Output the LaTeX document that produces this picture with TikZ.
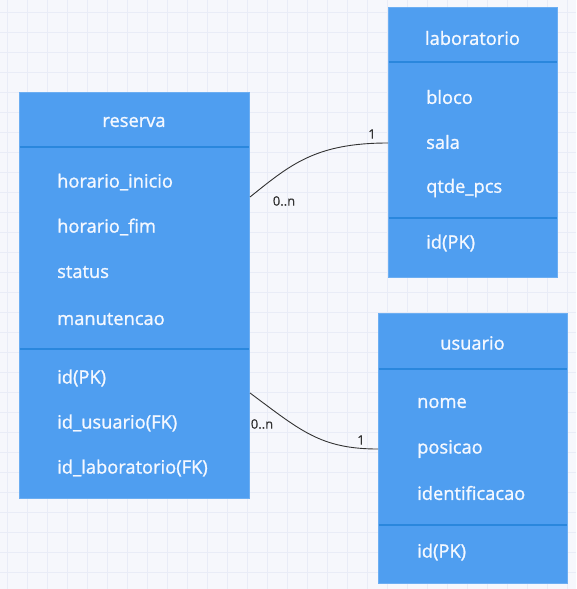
\documentclass[tikz,border=0pt]{standalone}
\usepackage{fontspec}
\setmainfont{Open Sans}
\newfontfamily\boxfont[FakeBold=1.2]{Open Sans}
\newfontfamily\cardfont[FakeBold=0.5]{Open Sans}
\usetikzlibrary{calc}
\definecolor{bg}{HTML}{F6F7FC}
\definecolor{gridc}{HTML}{E9ECF7}
\definecolor{boxfill}{HTML}{4F9EF0}
\definecolor{boxedge}{HTML}{6CAEF2}
\definecolor{sepc}{HTML}{2A87DD}
\definecolor{txt}{HTML}{F4F8FF}
\definecolor{lbl}{HTML}{333333}
\tikzset{
  entity/.style={draw=boxedge, line width=1pt, fill=boxfill, anchor=north west, inner sep=0pt},
  sepline/.style={draw=sepc, line width=1.5pt},
  head/.style={text=txt, font=\boxfont\fontsize{18.3}{21}\selectfont, anchor=center},
  attr/.style={text=txt, font=\boxfont\fontsize{18.3}{21}\selectfont, anchor=west, inner sep=0pt},
  card/.style={text=lbl, font=\cardfont\fontsize{13}{14}\selectfont, inner sep=0pt},
  rel/.style={draw=black!80, line width=0.9pt},
}
\begin{document}
\begin{tikzpicture}[x=1pt,y=-1pt]
\useasboundingbox (0,0) rectangle (576,589);
\fill[bg] (0,0) rectangle (576,589);
\foreach \i in {0,...,28} {\draw[gridc, line width=0.8pt] ({7.3+20*\i},0) -- ({7.3+20*\i},589);}
\foreach \i in {0,...,29} {\draw[gridc, line width=0.8pt] (0,{12.3+20*\i}) -- (576,{12.3+20*\i});}

% reserva
\node[entity, minimum width=230pt, minimum height=406pt] (reserva) at (19,92) {};
\draw[sepline] (19.5,147) -- (248.5,147);
\draw[sepline] (19.5,349) -- (248.5,349);
\node[head] (rh) at (134,122) {reserva};
\node[attr] (r1) at (57,182) {horario\_inicio};
\node[attr] (r2) at (57,227) {horario\_fim};
\node[attr] (r3) at (57,272) {status};
\node[attr] (r4) at (57,319) {manutencao};
\node[attr] (r5) at (57,378) {id(PK)};
\node[attr] (r6) at (57,423) {id\_usuario(FK)};
\node[attr] (r7) at (57,468) {id\_laboratorio(FK)};

% laboratorio
\node[entity, minimum width=169pt, minimum height=270pt] (lab) at (388,7) {};
\draw[sepline] (388.5,62) -- (556.5,62);
\draw[sepline] (388.5,218) -- (556.5,218);
\node[head] (lh) at (472.5,38) {laboratorio};
\node[attr] (l1) at (426,97) {bloco};
\node[attr] (l2) at (426,142) {sala};
\node[attr] (l3) at (426,188) {qtde\_pcs};
\node[attr] (l4) at (426,243) {id(PK)};

% usuario
\node[entity, minimum width=189pt, minimum height=270pt] (usu) at (378,313) {};
\draw[sepline] (378.5,369) -- (566.5,369);
\draw[sepline] (378.5,525) -- (566.5,525);
\node[head] (uh) at (472.5,343) {usuario};
\node[attr] (u1) at (417,403) {nome};
\node[attr] (u2) at (417,449) {posicao};
\node[attr] (u3) at (417,493) {identificacao};
\node[attr] (u4) at (417,552) {id(PK)};

% connectors
\coordinate (ra) at ($(reserva.north east)+(0,105)$);
\coordinate (la) at ($(lab.north west)+(0,136)$);
\coordinate (rb) at ($(reserva.north east)+(0,301)$);
\coordinate (ub) at ($(usu.north west)+(0,136)$);
\draw[rel] (ra) .. controls (290,165) and (315,143) .. (la);
\draw[rel] (rb) .. controls (300,430) and (320,449) .. (ub);
\node[card] (c1) at (372,134) {1};
\node[card] (c2) at (284,201) {0..n};
\node[card] (c3) at (262,424) {0..n};
\node[card] (c4) at (361,440) {1};
\end{tikzpicture}
\end{document}
